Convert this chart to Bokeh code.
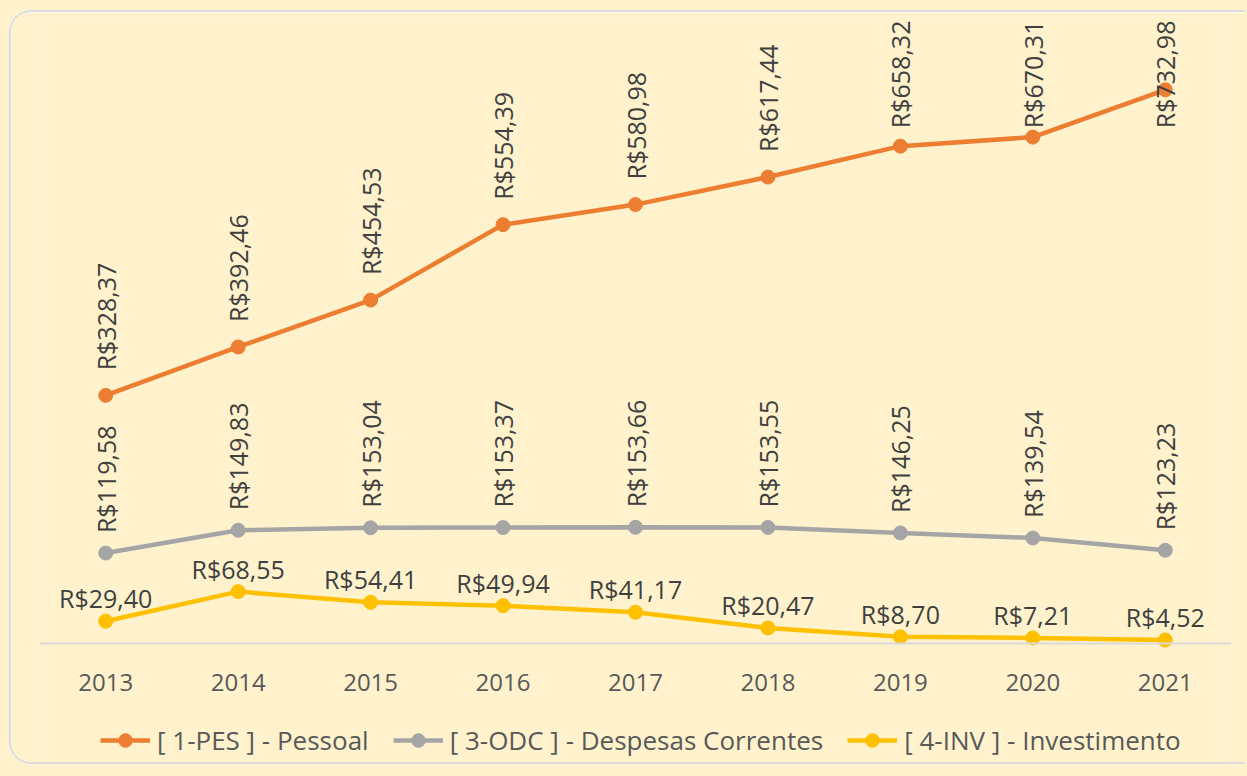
import numpy as np
from bokeh.plotting import figure
from bokeh.models import ColumnDataSource, Legend, LegendItem, FactorRange, Range1d
from bokeh.core.properties import value
from bokeh.embed import file_html
from bokeh.resources import INLINE

years = ["2013", "2014", "2015", "2016", "2017", "2018", "2019", "2020", "2021"]
pes = [328.37, 392.46, 454.53, 554.39, 580.98, 617.44, 658.32, 670.31, 732.98]
odc = [119.58, 149.83, 153.04, 153.37, 153.66, 153.55, 146.25, 139.54, 123.23]
inv = [29.40, 68.55, 54.41, 49.94, 41.17, 20.47, 8.70, 7.21, 4.52]
series_names = ["[ 1-PES ] - Pessoal", "[ 3-ODC ] - Despesas Correntes", "[ 4-INV ] - Investimento"]


def brl(v):
    return "R$" + f"{v:.2f}".replace(".", ",")


FONT = value("Open Sans")
LABEL_COLOR = "#404040"
BG = "#FFF2CC"

src = ColumnDataSource(dict(
    year=years,
    pes=pes, odc=odc, inv=inv,
    pes_lab=[brl(v) for v in pes],
    odc_lab=[brl(v) for v in odc],
    inv_lab=[brl(v) for v in inv],
    pes_lab_y=list(np.minimum(np.array(pes), 649.0)),
))

p = figure(width=1236, height=754, x_range=FactorRange(*years, range_padding=0),
           y_range=Range1d(-163, 830), y_axis_location=None,
           output_backend="svg", toolbar_location=None,
           min_border_left=28, min_border_right=16, min_border_top=4, min_border_bottom=0)

p.background_fill_color = BG
p.border_fill_color = BG
p.outline_line_color = None
p.xgrid.visible = False
p.ygrid.visible = False
p.styles = {"border": "2px solid #DCDCDC", "border-right": "none",
            "border-radius": "22px 0 0 22px", "overflow": "hidden",
            "margin": "10px 0 0 9px", "box-shadow": "0 0 0 40px #FFF2CC"}

ax = p.xaxis[0]
ax.fixed_location = 0
ax.axis_line_color = "#D9D9D9"
ax.axis_line_width = 2
ax.major_tick_line_color = None
ax.minor_tick_line_color = None
ax.major_label_text_font = "Open Sans"
ax.major_label_text_font_size = "24px"
ax.major_label_text_color = "#595959"
ax.major_label_standoff = 25

colors = ["#ED7D31", "#A5A5A5", "#FFC000"]
items = []
for col, key, name in zip(colors, ["pes", "odc", "inv"], series_names):
    l = p.line(x="year", y=key, source=src, line_color=col, line_width=4.5)
    s = p.scatter(x="year", y=key, source=src, size=14, fill_color=col, line_color=col)
    items.append(LegendItem(label=name, renderers=[l, s]))

p.text(x="year", y="pes_lab_y", text="pes_lab", source=src, angle=np.pi / 2,
       text_align="left", text_baseline="middle", y_offset=-25,
       text_font=FONT, text_font_size="25px", text_color=LABEL_COLOR)
p.text(x="year", y="odc", text="odc_lab", source=src, angle=np.pi / 2,
       text_align="left", text_baseline="middle", y_offset=-20,
       text_font=FONT, text_font_size="25px", text_color=LABEL_COLOR)
p.text(x="year", y="inv", text="inv_lab", source=src,
       text_align="center", text_baseline="alphabetic", y_offset=-23,
       text_font=FONT, text_font_size="25px", text_color=LABEL_COLOR)

legend = Legend(items=items, orientation="horizontal", location=(61, 8),
                glyph_width=50, glyph_height=34, label_text_font="Open Sans",
                label_text_font_size="26px", label_text_color="#595959",
                spacing=24, padding=0, margin=0, label_standoff=7,
                border_line_color=None, background_fill_alpha=0)
p.add_layout(legend)

open("out.html", "w").write(file_html(p, INLINE))
